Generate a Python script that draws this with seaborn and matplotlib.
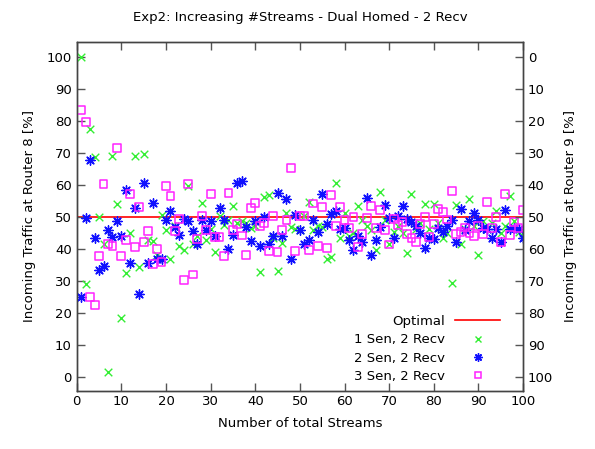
import numpy as np
import pandas as pd
import seaborn as sns
import matplotlib
matplotlib.use("Agg")
import matplotlib.pyplot as plt
from matplotlib.lines import Line2D

streams = list(range(1, 101))

# 1 sender, 2 receivers
sen1 = [100, 28.9, 77.5, 68.6, 50, 41.6, 1.3, 68.9, 54, 18.3,
        32.5, 45, 69.1, 34.3, 69.7, 42.8, 42.4, 37.9, 50.4, 45.7,
        36.8, 47, 40.7, 39.7, 59.7, 41.6, 44, 54.4, 42.8, 46,
        38.8, 50.2, 47.5, 49, 53.2, 48, 48.5, 47.9, 46.4, 47,
        32.7, 56.2, 56.7, 43.3, 33, 41.9, 51.1, 46.7, 46.1, 45.7,
        50.3, 54.6, 45.9, 47, 46.7, 36.7, 37.4, 60.6, 43.3, 51,
        44, 44.8, 53.4, 49.1, 47, 45.9, 39.5, 57.6, 49, 41.3,
        45.2, 47, 44.8, 38.6, 57, 46, 47.9, 54, 46, 54,
        48.1, 43.2, 44.8, 29.4, 53.7, 41.5, 46, 55.4, 47, 38,
        48.5, 46, 48.1, 51.9, 44.8, 47, 56.5, 48.5, 45.3, 44.8]

# 2 senders, 2 receivers
sen2 = [25, 49.7, 67.6, 43.4, 33.2, 34.5, 45.9, 43.6, 48.5, 44,
        58.4, 35.5, 52.8, 25.9, 60.6, 35.5, 54.3, 36.9, 36.9, 49.1,
        51.7, 46.8, 44.4, 49.2, 48.6, 45.5, 41.3, 49.1, 45.9, 48.5,
        43.9, 52.7, 48.9, 39.8, 44.2, 60.6, 61.1, 46.8, 42.3, 48.6,
        40.9, 49.9, 41.6, 43.9, 57.4, 43.9, 55.4, 36.9, 50.6, 45.7,
        41.4, 42.6, 49.1, 45.1, 57, 47.6, 50.7, 51.7, 46.3, 46.5,
        42.6, 39.5, 44.1, 42.1, 55.9, 37.9, 42.8, 46.8, 53.8, 49.5,
        43.3, 50.1, 53.2, 49.2, 48.3, 47.1, 44.9, 40.1, 43.4, 42.9,
        46.6, 45.1, 47.2, 49.1, 42, 52.5, 45.7, 48.8, 51.3, 48.9,
        46.5, 46.3, 43.4, 46.3, 42.1, 52.2, 46.3, 46.6, 46.3, 43.4]

# 3 senders, 2 receivers
sen3 = [83.3, 79.5, 25, 22.3, 37.6, 60.3, 41.4, 40.7, 71.6, 37.6,
        42.8, 57.2, 40.4, 53, 42.2, 45.5, 35.3, 40, 35.8, 59.7,
        56.4, 45.5, 49.4, 30.1, 60.3, 31.9, 42.9, 50.3, 45.9, 57,
        43.6, 43.6, 37.6, 57.5, 45.9, 47.6, 44.1, 37.9, 52.7, 54.3,
        47.2, 48, 39.2, 50.3, 38.9, 45.7, 48.9, 65.3, 39.2, 50.1,
        50.3, 39.5, 54.1, 40.9, 53.1, 40.1, 56.8, 47, 53.1, 48.9,
        46.4, 50, 40.4, 44.7, 49.5, 53.3, 46.4, 52.2, 45.9, 41.3,
        49.3, 47.3, 48.3, 44.7, 43.4, 42, 47.8, 50, 43.6, 47.6,
        52.5, 51.4, 49.1, 58.1, 44.6, 45.2, 46.6, 44.9, 44, 47,
        44.6, 54.6, 46.4, 50, 42.1, 57.2, 44.3, 48.4, 46.4, 52.2]

optimal = 50

df = pd.DataFrame({"streams": streams, "sen1": sen1, "sen2": sen2, "sen3": sen3})

plt.rcParams["font.family"] = ["DejaVu Sans"]
plt.rcParams["font.size"] = 9.5

fig = plt.figure(figsize=(5.95, 4.49), dpi=100)
ax = fig.add_axes([0.129, 0.130, 0.750, 0.777])

ax.axhline(optimal, color="#ff0000", lw=1.2, zorder=1)
sns.scatterplot(data=df, x="streams", y="sen1", marker="x", s=30, color="#33ee33",
                linewidth=1.0, ax=ax, zorder=3)
sns.scatterplot(data=df, x="streams", y="sen2", marker=(8, 2, 0), s=45, color="#1010ff",
                edgecolor="#1010ff", linewidth=1.0, ax=ax, zorder=3)
sns.scatterplot(data=df, x="streams", y="sen3", marker="s", s=32, facecolors="none",
                edgecolor="#ff22ff", linewidth=1.1, ax=ax, zorder=3)

ax.set_xlim(0, 100)
ax.set_ylim(-4.4, 104.7)
ax.set_xticks(range(0, 101, 10))
ax.set_yticks(range(0, 101, 10))
ax.set_xlabel("Number of total Streams", labelpad=6)
ax.set_ylabel("Incoming Traffic at Router 8 [%]", labelpad=8)
ax.set_title("Exp2: Increasing #Streams - Dual Homed - 2 Recv", fontsize=9.5, pad=15)

ax2 = ax.twinx()
ax2.set_ylim(100 + 4.4, 100 - 104.7)
ax2.set_yticks(range(0, 101, 10))
ax2.set_ylabel("Incoming Traffic at Router 9 [%]", labelpad=8)

for a in (ax, ax2):
    for sp in a.spines.values():
        sp.set_color("#444444")
        sp.set_linewidth(1.0)
ax.tick_params(direction="in", length=6, width=1, color="#555555", top=True, right=False)
ax2.tick_params(direction="in", length=6, width=1, color="#555555")

handles = [
    Line2D([], [], color="#ff0000", lw=1.2),
    Line2D([], [], color="#33ee33", marker="x", ls="", ms=5, mew=1.0),
    Line2D([], [], color="#1010ff", marker=(8, 2, 0), ls="", ms=6, mew=1.0),
    Line2D([], [], color="#ff22ff", marker="s", mfc="none", ls="", ms=5, mew=1.1),
]
labels = ["Optimal", "1 Sen, 2 Recv", "2 Sen, 2 Recv", "3 Sen, 2 Recv"]
ax.legend(handles, labels, loc="lower right", bbox_to_anchor=(0.975, -0.012), frameon=False,
          markerfirst=False, handlelength=3.4, handletextpad=0.8, labelspacing=0.4)

fig.savefig("out.png", dpi=100)
